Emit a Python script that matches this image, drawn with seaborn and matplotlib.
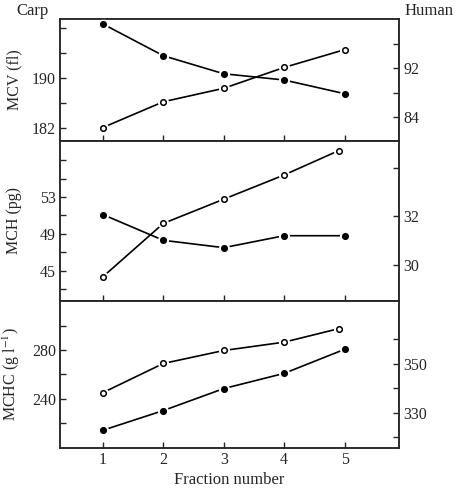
import numpy as np
import pandas as pd
import matplotlib
matplotlib.use("Agg")
import matplotlib.pyplot as plt
import seaborn as sns

# ── Data ──────────────────────────────────────────────────────────────────────
FRACTION = [1, 2, 3, 4, 5]
FRACTION_OPEN_LATE = [1, 2, 3, 4, 4.9]   # last open point sits a touch left of 5

# filled circles -> left axis (carp), open circles -> right axis (human)
MCV_CARP   = [198.7, 193.6, 190.7, 189.7, 187.5]
MCV_HUMAN  = [82.3, 86.5, 88.7, 92.1, 95.0]
MCH_CARP   = [51.1, 48.3, 47.5, 48.8, 48.8]
MCH_HUMAN  = [29.5, 31.7, 32.7, 33.7, 34.7]
MCHC_CARP  = [213.8, 230.1, 248.3, 260.9, 280.8]
MCHC_HUMAN = [338.2, 350.1, 355.4, 358.8, 364.3]

PANELS = [
    # ylabel, carp, human, human x, left lim, right lim, left major/minor, right major/minor
    ("MCV (fl)", MCV_CARP, MCV_HUMAN, FRACTION,
     (179.9, 199.5), (80.1, 100.0),
     [182, 190], [186, 194, 198], [84, 92], [88, 96]),
    ("MCH (pg)", MCH_CARP, MCH_HUMAN, FRACTION_OPEN_LATE,
     (41.7, 59.1), (28.5, 35.1),
     [45, 49, 53], [43, 47, 51, 55, 57], [30, 32], [34]),
    (r"MCHC (g l$^{-1}$)", MCHC_CARP, MCHC_HUMAN, FRACTION_OPEN_LATE,
     (199.1, 320.8), (315.6, 375.6),
     [240, 280], [220, 260, 300], [330, 350], [320, 340, 360]),
]

# ── Style ─────────────────────────────────────────────────────────────────────
sns.set_theme(style="ticks")
plt.rcParams["font.family"] = ["Liberation Serif", "DejaVu Serif"]
plt.rcParams["mathtext.fontset"] = "stix"
plt.rcParams["axes.linewidth"] = 1.1
FS = 11.5


def draw_series(ax, x, y, filled):
    # white halo under markers so the line stops short of each point
    ax.plot(x, y, color="black", linewidth=1.2, zorder=2)
    ax.plot(x, y, linestyle="none", marker="o", markersize=7,
            markerfacecolor="white", markeredgecolor="white", zorder=3)
    sns.scatterplot(x=x, y=y, ax=ax, s=16, color="black" if filled else "white",
                    edgecolor="black", linewidth=1.1, zorder=4, legend=False)


fig = plt.figure(figsize=(4.57, 4.91), dpi=100)
gs = fig.add_gridspec(3, 1, height_ratios=[122, 160, 147], hspace=0,
                      left=60 / 457, right=399 / 457, top=1 - 19 / 491, bottom=1 - 448 / 491)

for i, (ylab, carp, human, hx, llim, rlim, lmaj, lmin, rmaj, rmin) in enumerate(PANELS):
    ax = fig.add_subplot(gs[i])
    ax2 = ax.twinx()

    draw_series(ax, FRACTION, carp, filled=True)
    draw_series(ax2, hx, human, filled=False)

    ax.set_xlim(0.29, 5.9)
    ax.set_ylim(*llim)
    ax2.set_ylim(*rlim)

    ax.set_xticks(FRACTION)
    ax.set_yticks(lmaj)
    ax.set_yticks(lmin, minor=True)
    ax2.set_yticks(rmaj)
    ax2.set_yticks(rmin, minor=True)

    for a in (ax, ax2):
        a.tick_params(which="both", direction="in", length=4, width=1.0,
                      labelsize=FS, pad=3)
        a.grid(False)
    ax2.tick_params(axis="x", bottom=False, labelbottom=False)

    ax.set_ylabel(ylab, fontsize=FS)
    ax.yaxis.set_label_coords(-0.112, 0.5)
    ax2.set_ylabel("")

    if i < 2:
        ax.tick_params(axis="x", labelbottom=False)
        ax.set_xlabel("")
    else:
        ax.set_xticklabels([str(v) for v in FRACTION])
        ax.set_xlabel("Fraction number", fontsize=FS + 0.5, labelpad=3)

fig.text(16 / 457, 1 - 11 / 491, "Carp", fontsize=FS + 0.5, ha="left", va="center")
fig.text(405 / 457, 1 - 11 / 491, "Human", fontsize=FS + 0.5, ha="left", va="center")

fig.savefig("out.png", dpi=100)
plt.close(fig)
